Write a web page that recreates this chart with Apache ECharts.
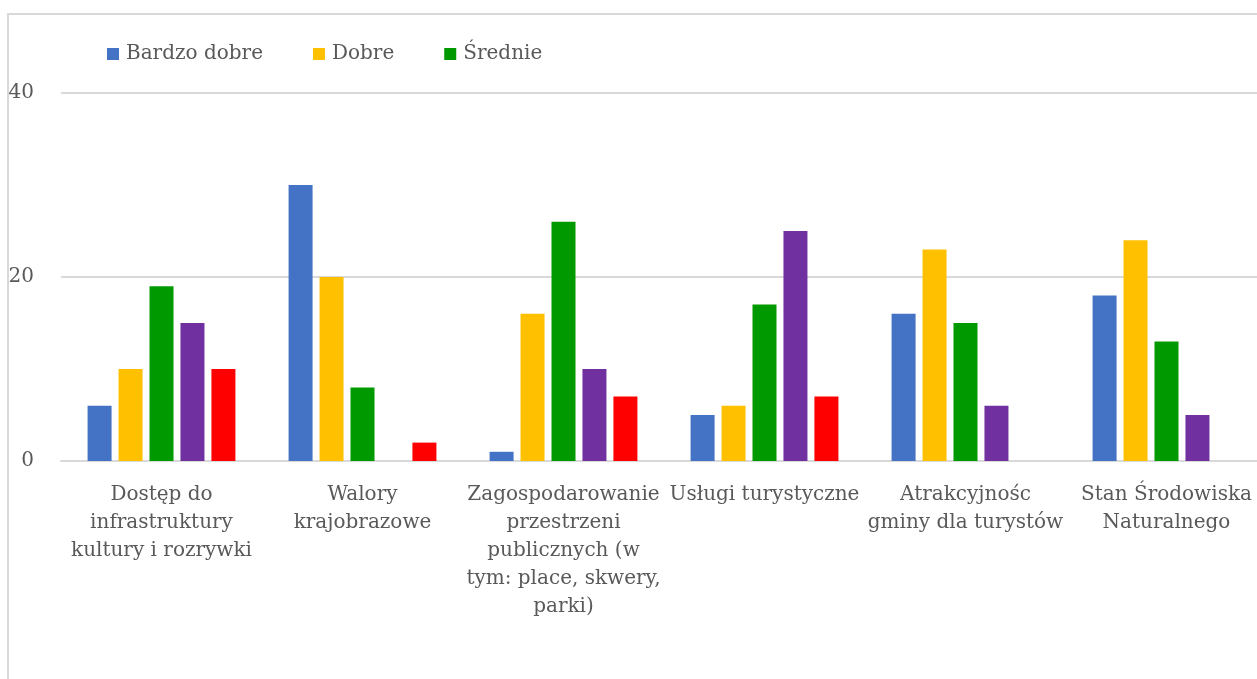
<!DOCTYPE html>
<html>
<head>
<meta charset="utf-8">
<script src="https://cdn.jsdelivr.net/npm/echarts@6/dist/echarts.min.js"></script>
<style>
  html, body { margin: 0; padding: 0; background: #fff; overflow: hidden; }
  #chart { width: 1267px; height: 679px; }
</style>
</head>
<body>
<div id="chart"></div>
<script>
// kategorie (łamanie wierszy jak w oryginale)
const categories = [
  'Dostęp do\ninfrastruktury\nkultury i rozrywki',
  'Walory\nkrajobrazowe',
  'Zagospodarowanie\nprzestrzeni\npublicznych (w\ntym: place, skwery,\nparki)',
  'Usługi turystyczne',
  'Atrakcyjnośc\ngminy dla turystów',
  'Stan Środowiska\nNaturalnego'
]
const bardzoDobre = [6, 30, 1, 5, 16, 18]
const dobre = [10, 20, 16, 6, 23, 24]
const srednie = [19, 8, 26, 17, 15, 13]
const slabe = [15, 0, 10, 25, 6, 5]
const bardzoSlabe = [10, 2, 7, 7, 0, 0]
const legendNames = ['Bardzo dobre', 'Dobre', 'Średnie']
const yTicks = { min: 0, max: 40, interval: 20 }

const FONT = 'DejaVu Serif'
const TEXT = '#595959'
const LINE = '#d9d9d9'

const chart = echarts.init(document.getElementById('chart'))

function barSeries(name, data, color) {
  return {
    name,
    type: 'bar',
    data,
    barWidth: 24,
    barGap: '29%',
    itemStyle: { color },
    emphasis: { disabled: true }
  }
}

chart.setOption({
  animation: false,
  backgroundColor: '#fff',
  textStyle: { fontFamily: FONT },
  graphic: [
    {
      type: 'polyline',
      silent: true,
      shape: { points: [[8, 700], [8, 14], [1300, 14]] },
      style: { stroke: LINE, lineWidth: 2, fill: null }
    }
  ],
  legend: {
    data: legendNames,
    left: 102,
    top: 39,
    itemWidth: 12,
    itemHeight: 12,
    itemGap: 50,
    icon: 'rect',
    textStyle: { fontFamily: FONT, fontSize: 20, color: TEXT, padding: [0, 0, 0, 2] }
  },
  grid: {
    left: 61,
    right: 0,
    top: 93,
    bottom: 218,
    containLabel: false
  },
  xAxis: {
    type: 'category',
    data: categories,
    axisTick: { show: false },
    axisLine: { lineStyle: { color: LINE, width: 2 } },
    axisLabel: {
      color: TEXT,
      fontFamily: FONT,
      fontSize: 20,
      lineHeight: 28,
      margin: 20,
      interval: 0,
      align: 'center'
    }
  },
  yAxis: {
    type: 'value',
    min: yTicks.min,
    max: yTicks.max,
    interval: yTicks.interval,
    axisLine: { show: false },
    axisTick: { show: false },
    splitLine: { lineStyle: { color: LINE, width: 2 } },
    axisLabel: {
      color: TEXT,
      fontFamily: FONT,
      fontSize: 20,
      margin: 27
    }
  },
  series: [
    barSeries('Bardzo dobre', bardzoDobre, '#4472C4'),
    barSeries('Dobre', dobre, '#FFC000'),
    barSeries('Średnie', srednie, '#009900'),
    barSeries('Słabe', slabe, '#7030A0'),
    barSeries('Bardzo słabe', bardzoSlabe, '#FF0000')
  ]
})
</script>
</body>
</html>
